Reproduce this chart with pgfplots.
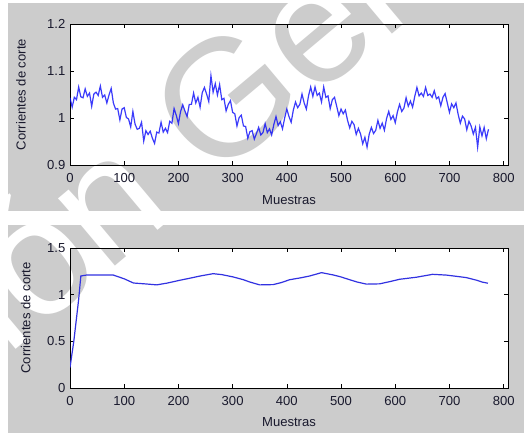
\documentclass[border=0pt]{standalone}
\usepackage{fontspec}
\setmainfont{Liberation Sans}
\usepackage{pgfplots}
\pgfplotsset{compat=1.18}
\definecolor{bggray}{RGB}{204,204,204}
\definecolor{textc}{RGB}{25,25,45}
\definecolor{wmgray}{RGB}{206,206,206}
\definecolor{linea}{RGB}{10,10,250}
\definecolor{lineb}{RGB}{50,50,225}

\pgfplotstableread{
x y
0 1.043
4 1.023
8 1.044
12 1.039
16 1.066
20 1.045
24 1.043
28 1.062
32 1.046
36 1.053
40 1.025
44 1.051
48 1.055
52 1.048
56 1.068
60 1.044
64 1.049
68 1.032
72 1.049
76 1.063
80 1.032
84 1.019
88 1.020
92 0.996
96 1.019
100 1.022
104 1.001
108 0.998
112 0.981
116 1.014
120 0.987
124 0.976
128 0.978
132 0.991
136 0.951
140 0.973
144 0.965
148 0.972
152 0.957
156 0.946
160 0.970
164 0.968
168 0.991
172 0.970
176 0.978
180 0.969
184 0.993
188 0.989
192 1.020
196 1.006
200 0.988
204 1.014
208 1.028
212 1.015
216 1.003
220 1.029
224 1.029
228 1.053
232 1.032
236 1.044
240 1.023
244 1.054
248 1.065
252 1.051
256 1.035
260 1.090
264 1.055
268 1.073
272 1.049
276 1.071
280 1.039
284 1.042
288 1.015
292 1.029
296 1.037
300 1.012
304 1.009
308 0.983
312 1.001
316 1.006
320 0.983
324 0.982
328 0.957
332 0.971
336 0.973
340 0.955
344 0.967
348 0.980
352 0.964
356 0.969
360 0.988
364 0.969
368 0.977
372 0.964
376 0.986
380 1.003
384 0.984
388 0.992
392 0.977
396 1.000
400 1.019
404 1.003
408 0.991
412 1.017
416 1.034
420 1.022
424 1.029
428 1.051
432 1.032
436 1.019
440 1.047
444 1.066
448 1.046
452 1.066
456 1.048
460 1.053
464 1.034
468 1.066
472 1.044
476 1.047
480 1.020
484 1.039
488 1.044
492 1.025
496 1.005
500 1.019
504 1.009
508 1.017
512 0.995
516 0.979
520 0.993
524 0.986
528 0.965
532 0.978
536 0.966
540 0.945
544 0.959
548 0.938
552 0.966
556 0.980
560 0.967
564 0.974
568 0.995
572 0.978
576 0.989
580 0.974
584 0.999
588 1.014
592 0.997
596 1.005
600 0.990
604 1.013
608 1.029
612 1.014
616 1.021
620 1.043
624 1.025
628 1.036
632 1.023
636 1.046
640 1.065
644 1.047
648 1.053
652 1.046
656 1.065
660 1.048
664 1.051
668 1.044
672 1.058
676 1.041
680 1.045
684 1.026
688 1.044
692 1.052
696 1.032
700 1.012
704 1.030
708 1.022
712 1.032
716 1.008
720 0.989
724 1.004
728 0.998
732 0.975
736 0.993
740 0.983
744 0.966
748 0.980
752 0.938
756 0.981
760 0.962
764 0.980
768 0.956
772 0.976
}\corrientes

\pgfplotstableread{
x y
0 0.22
7 0.50
16 0.95
20 1.20
30 1.21
50 1.21
80 1.21
100 1.17
117 1.125
140 1.115
160 1.105
180 1.125
203 1.155
220 1.175
240 1.20
264 1.225
280 1.215
301 1.19
320 1.16
332 1.135
350 1.105
375 1.108
390 1.130
405 1.160
425 1.180
442 1.200
464 1.236
485 1.212
500 1.190
516 1.160
530 1.135
547 1.113
571 1.116
590 1.140
608 1.165
639 1.187
669 1.218
694 1.210
715 1.195
731 1.183
750 1.155
761 1.134
771 1.123
}\filtrada

\pgfplotsset{
  panel/.style={
    scale only axis,
    width=328.5pt,
    xmin=0, xmax=808,
    xtick={0,100,...,800},
    tick align=inside,
    major tick length=3pt,
    axis line style={black, line width=0.6pt},
    tick style={black, line width=0.5pt},
    /pgf/number format/assume math mode=true,
    ticklabel style={font=\fontsize{9.8}{10}\selectfont, text=textc},
    xticklabel style={yshift=-2.5pt},
    label style={font=\fontsize{9.8}{10}\selectfont, text=textc},
    xlabel={Muestras},
    ylabel={Corrientes de corte},
  }
}

\newcommand{\marca}[1]{\node[#1, rotate=40, inner sep=0pt,
  font=\fontsize{125}{125}\selectfont] at (120pt,-112pt) {ción Gen};}

\begin{document}
\begin{tikzpicture}
\path[use as bounding box] (0,0) rectangle (393pt,-324.75pt);
\fill[bggray] (6pt,-2.25pt) rectangle (393pt,-158.25pt);
\fill[bggray] (6pt,-168.75pt) rectangle (393pt,-324.75pt);
\begin{scope}
  \clip (6pt,-2.25pt) rectangle (393pt,-158.25pt)
        (6pt,-168.75pt) rectangle (393pt,-324.75pt);
  \marca{white}
\end{scope}
\fill[white] (52.5pt,-18pt) rectangle (381pt,-123.75pt);
\fill[white] (52.5pt,-186pt) rectangle (381pt,-291pt);
\begin{scope}
  \clip (52.5pt,-18pt) rectangle (381pt,-123.75pt)
        (52.5pt,-186pt) rectangle (381pt,-291pt);
  \marca{wmgray}
\end{scope}

\begin{axis}[panel,
    at={(52.5pt,-123.75pt)}, anchor=south west,
    height=105.75pt,
    ymin=0.9, ymax=1.2,
    ytick={0.9,1,1.1,1.2},
    xlabel style={at={(axis description cs:0.5,-0.248)}, anchor=center},
    ylabel style={at={(axis description cs:-0.112,0.5)}, anchor=center},
]
\addplot[linea, line width=0.9pt, opacity=0.8] table[x=x,y=y] {\corrientes};
\end{axis}

\begin{axis}[panel,
    at={(52.5pt,-291pt)}, anchor=south west,
    height=105pt,
    ymin=0, ymax=1.5,
    ytick={0,0.5,1,1.5},
    xlabel style={at={(axis description cs:0.5,-0.243)}, anchor=center},
    ylabel style={at={(axis description cs:-0.101,0.5)}, anchor=center},
]
\addplot[lineb, line width=0.9pt] table[x=x,y=y] {\filtrada};
\end{axis}
\end{tikzpicture}
\end{document}
